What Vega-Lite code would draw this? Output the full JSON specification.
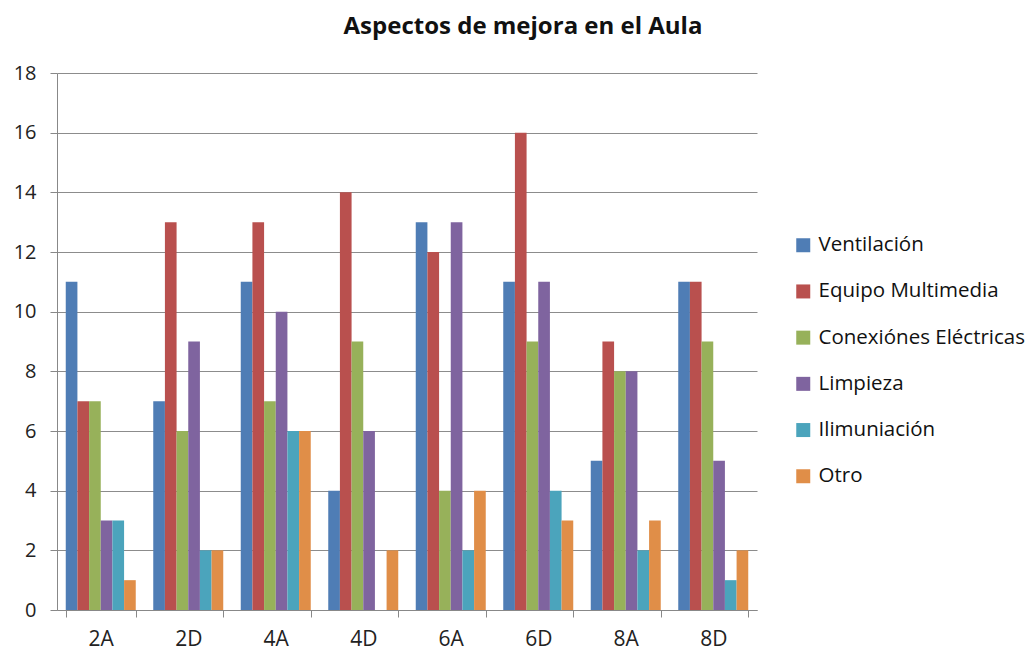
{
  "$schema": "https://vega.github.io/schema/vega-lite/v6.json",
  "autosize": {"type": "none"},
  "width": 700,
  "height": 537,
  "padding": {"left": 57, "top": 73, "right": 273, "bottom": 44},
  "background": "white",
  "config": {
    "font": "Open Sans",
    "view": {"stroke": null}
  },
  "title": {
    "text": "Aspectos de mejora en el Aula",
    "fontSize": 24,
    "fontWeight": "bold",
    "font": "Open Sans",
    "color": "#111111",
    "anchor": "middle",
    "dx": 116,
    "offset": 24
  },
  "data": {
    "values": [
      {"grupo": "2A", "aspecto": "Ventilación", "valor": 11},
      {"grupo": "2A", "aspecto": "Equipo Multimedia", "valor": 7},
      {"grupo": "2A", "aspecto": "Conexiónes Eléctricas", "valor": 7},
      {"grupo": "2A", "aspecto": "Limpieza", "valor": 3},
      {"grupo": "2A", "aspecto": "Ilimuniación", "valor": 3},
      {"grupo": "2A", "aspecto": "Otro", "valor": 1},
      {"grupo": "2D", "aspecto": "Ventilación", "valor": 7},
      {"grupo": "2D", "aspecto": "Equipo Multimedia", "valor": 13},
      {"grupo": "2D", "aspecto": "Conexiónes Eléctricas", "valor": 6},
      {"grupo": "2D", "aspecto": "Limpieza", "valor": 9},
      {"grupo": "2D", "aspecto": "Ilimuniación", "valor": 2},
      {"grupo": "2D", "aspecto": "Otro", "valor": 2},
      {"grupo": "4A", "aspecto": "Ventilación", "valor": 11},
      {"grupo": "4A", "aspecto": "Equipo Multimedia", "valor": 13},
      {"grupo": "4A", "aspecto": "Conexiónes Eléctricas", "valor": 7},
      {"grupo": "4A", "aspecto": "Limpieza", "valor": 10},
      {"grupo": "4A", "aspecto": "Ilimuniación", "valor": 6},
      {"grupo": "4A", "aspecto": "Otro", "valor": 6},
      {"grupo": "4D", "aspecto": "Ventilación", "valor": 4},
      {"grupo": "4D", "aspecto": "Equipo Multimedia", "valor": 14},
      {"grupo": "4D", "aspecto": "Conexiónes Eléctricas", "valor": 9},
      {"grupo": "4D", "aspecto": "Limpieza", "valor": 6},
      {"grupo": "4D", "aspecto": "Ilimuniación", "valor": 0},
      {"grupo": "4D", "aspecto": "Otro", "valor": 2},
      {"grupo": "6A", "aspecto": "Ventilación", "valor": 13},
      {"grupo": "6A", "aspecto": "Equipo Multimedia", "valor": 12},
      {"grupo": "6A", "aspecto": "Conexiónes Eléctricas", "valor": 4},
      {"grupo": "6A", "aspecto": "Limpieza", "valor": 13},
      {"grupo": "6A", "aspecto": "Ilimuniación", "valor": 2},
      {"grupo": "6A", "aspecto": "Otro", "valor": 4},
      {"grupo": "6D", "aspecto": "Ventilación", "valor": 11},
      {"grupo": "6D", "aspecto": "Equipo Multimedia", "valor": 16},
      {"grupo": "6D", "aspecto": "Conexiónes Eléctricas", "valor": 9},
      {"grupo": "6D", "aspecto": "Limpieza", "valor": 11},
      {"grupo": "6D", "aspecto": "Ilimuniación", "valor": 4},
      {"grupo": "6D", "aspecto": "Otro", "valor": 3},
      {"grupo": "8A", "aspecto": "Ventilación", "valor": 5},
      {"grupo": "8A", "aspecto": "Equipo Multimedia", "valor": 9},
      {"grupo": "8A", "aspecto": "Conexiónes Eléctricas", "valor": 8},
      {"grupo": "8A", "aspecto": "Limpieza", "valor": 8},
      {"grupo": "8A", "aspecto": "Ilimuniación", "valor": 2},
      {"grupo": "8A", "aspecto": "Otro", "valor": 3},
      {"grupo": "8D", "aspecto": "Ventilación", "valor": 11},
      {"grupo": "8D", "aspecto": "Equipo Multimedia", "valor": 11},
      {"grupo": "8D", "aspecto": "Conexiónes Eléctricas", "valor": 9},
      {"grupo": "8D", "aspecto": "Limpieza", "valor": 5},
      {"grupo": "8D", "aspecto": "Ilimuniación", "valor": 1},
      {"grupo": "8D", "aspecto": "Otro", "valor": 2}
    ]
  },
  "mark": {"type": "bar"},
  "encoding": {
    "x": {
      "field": "grupo",
      "type": "nominal",
      "sort": ["2A", "2D", "4A", "4D", "6A", "6D", "8A", "8D"],
      "scale": {"paddingInner": 0.2, "paddingOuter": 0.1},
      "axis": {
        "title": null,
        "labelAngle": 0,
        "labelFontSize": 21,
        "labelColor": "#222222",
        "labelPadding": 11,
        "tickBand": "extent",
        "tickSize": 7,
        "tickColor": "#888888",
        "domainColor": "#888888",
        "grid": false
      }
    },
    "xOffset": {
      "field": "aspecto",
      "type": "nominal",
      "sort": ["Ventilación", "Equipo Multimedia", "Conexiónes Eléctricas", "Limpieza", "Ilimuniación", "Otro"],
      "scale": {"paddingInner": 0, "paddingOuter": 0}
    },
    "y": {
      "field": "valor",
      "type": "quantitative",
      "scale": {"domain": [0, 18], "nice": false},
      "axis": {
        "title": null,
        "values": [0, 2, 4, 6, 8, 10, 12, 14, 16, 18],
        "labelFontSize": 20,
        "labelColor": "#222222",
        "labelPadding": 14,
        "tickSize": 7,
        "tickColor": "#888888",
        "domainColor": "#888888",
        "gridColor": "#8c8c8c",
        "gridWidth": 1
      }
    },
    "color": {
      "field": "aspecto",
      "type": "nominal",
      "sort": ["Ventilación", "Equipo Multimedia", "Conexiónes Eléctricas", "Limpieza", "Ilimuniación", "Otro"],
      "scale": {
        "domain": ["Ventilación", "Equipo Multimedia", "Conexiónes Eléctricas", "Limpieza", "Ilimuniación", "Otro"],
        "range": ["#4F7DB5", "#B9504E", "#97B15A", "#7F649F", "#4BA4BC", "#E08E48"]
      },
      "legend": {
        "title": null,
        "orient": "none",
        "legendX": 736,
        "legendY": 162,
        "symbolType": "square",
        "symbolSize": 196,
        "symbolStrokeWidth": 0,
        "symbolOpacity": 1,
        "labelFontSize": 20.5,
        "labelColor": "#111111",
        "labelOffset": 5,
        "rowPadding": 25.2,
        "labelLimit": 300
      }
    }
  }
}
